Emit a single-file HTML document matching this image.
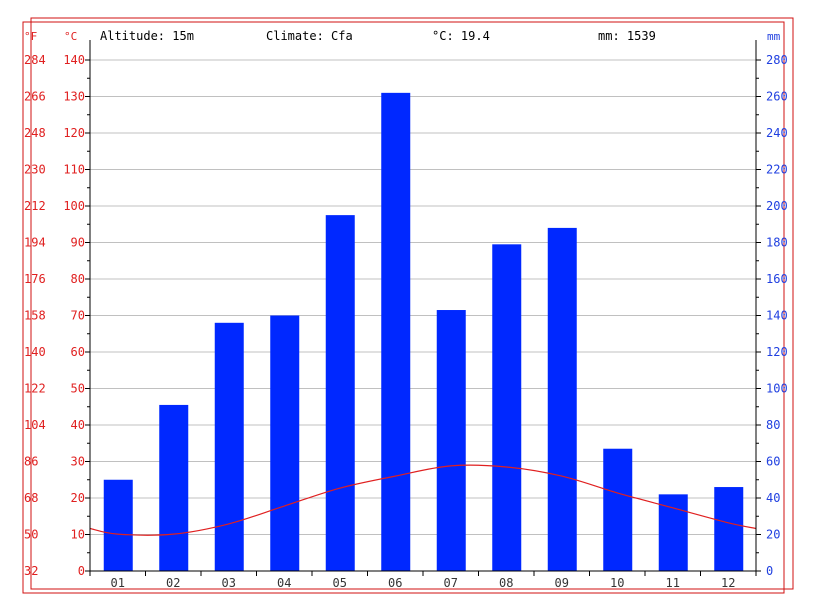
<!DOCTYPE html>
<html><head><meta charset="utf-8"><style>
body{margin:0;background:#fff}
svg{display:block;font-family:"DejaVu Sans Mono","Liberation Mono",monospace}
</style></head><body>
<svg width="815" height="611" id="c">
<rect x="31" y="18" width="762" height="571" fill="none" stroke="#d01010"/>
<rect x="23" y="22" width="761" height="571" fill="none" stroke="#d01010"/>
<g id="grid"></g><g id="bars"></g><g id="line"></g><g id="axes"></g>
<text x="100" y="40" font-size="12">Altitude: 15m</text>
<text x="266" y="40" font-size="12">Climate: Cfa</text>
<text x="432" y="40" font-size="12">°C: 19.4</text>
<text x="598" y="40" font-size="12">mm: 1539</text>
<text x="24" y="40" font-size="11" fill="#e02020">°F</text>
<text x="64" y="40" font-size="11" fill="#e02020">°C</text>
<text x="767" y="40" font-size="11" fill="#2040e0">mm</text>
</svg>
<script>
const months=["01","02","03","04","05","06","07","08","09","10","11","12"];
const precip=[50,91,136,140,195,262,143,179,188,67,42,46];
const temp=[10.1,10.1,12.9,17.8,22.7,26,28.8,28.5,26,21.4,17.3,13.2];
const cTicks=[0,10,20,30,40,50,60,70,80,90,100,110,120,130,140];
const fTicks=[32,50,68,86,104,122,140,158,176,194,212,230,248,266,284];
const mmTicks=[0,20,40,60,80,100,120,140,160,180,200,220,240,260,280];
const NS="http://www.w3.org/2000/svg";
const X0=90,X1=756,Y0=571,YT=60;
const yC=v=>Y0-(v/140)*(Y0-YT);
const yMM=v=>Y0-(v/280)*(Y0-YT);
const bw=(X1-X0)/12;
const xM=i=>X0+bw*(i+0.5);
function mk(p,t,a){const e=document.createElementNS(NS,t);for(const k in a)e.setAttribute(k,a[k]);document.getElementById(p).appendChild(e);return e;}
cTicks.forEach((v,i)=>{
 if(v>0){const g=mk('grid','line',{x1:X0,x2:X1,y1:yC(v),y2:yC(v),stroke:'#c0c0c0'});
 
 }
 let t=mk('axes','text',{x:85,y:yC(v)+4,'font-size':12,fill:'#e02020','text-anchor':'end'});t.textContent=v;
 
 
 t=mk('axes','text',{x:24,y:yC(v)+4,'font-size':12,fill:'#e02020'});t.textContent=fTicks[i];
 
 
 mk('axes','line',{x1:X0-5,x2:X0,y1:yC(v),y2:yC(v),stroke:'#000'});
 if(v<140)mk('axes','line',{x1:X0-3,x2:X0,y1:yC(v+5),y2:yC(v+5),stroke:'#000'});
});
mmTicks.forEach(v=>{
 const t=mk('axes','text',{x:766,y:yMM(v)+4,'font-size':12,fill:'#2040e0'});t.textContent=v;
 
 
 mk('axes','line',{x1:X1,x2:X1+5,y1:yMM(v),y2:yMM(v),stroke:'#000'});
 if(v<280)mk('axes','line',{x1:X1,x2:X1+3,y1:yMM(v+10),y2:yMM(v+10),stroke:'#000'});
});
precip.forEach((v,i)=>{
 const r=mk('bars','rect',{x:xM(i)-14,y:yMM(v),width:29,height:Y0-yMM(v),fill:'#0028ff'});
 
 
 const t=mk('axes','text',{x:xM(i),y:Y0+16,'font-size':12,fill:'#333','text-anchor':'middle'});t.textContent=months[i];
 
 
});
for(let i=0;i<=12;i++)mk('axes','line',{x1:X0+bw*i,x2:X0+bw*i,y1:Y0,y2:Y0+5,stroke:'#000'});
const edge=(temp[0]+temp[11])/2;
const pts=[[X0,yC(edge)]].concat(temp.map((v,i)=>[xM(i),yC(v)])).concat([[X1,yC(edge)]]);
let d='M'+pts[0][0]+','+pts[0][1];
for(let i=1;i<pts.length;i++){const p0=pts[Math.max(0,i-2)],p1=pts[i-1],p2=pts[i],p3=pts[Math.min(pts.length-1,i+1)];
 d+=` C${p1[0]+(p2[0]-p0[0])/6},${p1[1]+(p2[1]-p0[1])/6} ${p2[0]-(p3[0]-p1[0])/6},${p2[1]-(p3[1]-p1[1])/6} ${p2[0]},${p2[1]}`;}
const ln=mk('line','path',{d:d,fill:'none',stroke:'#e02020','stroke-width':1.2});


mk('axes','line',{x1:X0,x2:X0,y1:40,y2:Y0,stroke:'#000'});
mk('axes','line',{x1:X1,x2:X1,y1:40,y2:Y0,stroke:'#000'});
mk('axes','line',{x1:X0,x2:X1,y1:Y0,y2:Y0,stroke:'#000'});
</script>
</body></html>
